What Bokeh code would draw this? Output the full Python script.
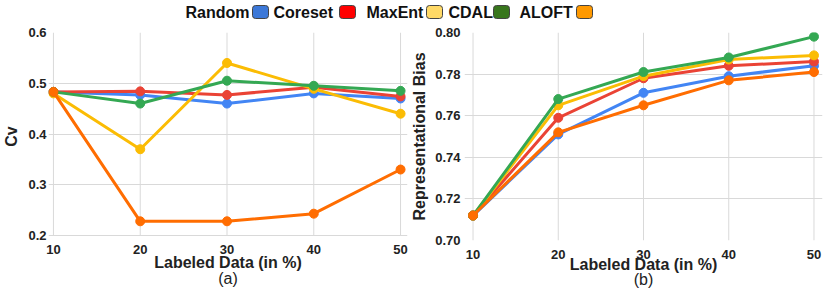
from bokeh.plotting import figure
from bokeh.layouts import column, row
from bokeh.models import FixedTicker, NumeralTickFormatter, Title, Range1d
from bokeh.core.properties import value
from bokeh.embed import file_html
from bokeh.resources import INLINE

# ---------------- data ----------------
methods = ["Random", "Coreset", "MaxEnt", "CDAL", "ALOFT"]
line_colors = ["#4285F4", "#EA4335", "#FBBC04", "#34A853", "#FF6D01"]
swatch_colors = ["#3C78D8", "#FF0000", "#FFD966", "#38761D", "#FF9900"]

labeled_pct = [10, 20, 30, 40, 50]

cv_random = [0.483, 0.477, 0.460, 0.480, 0.470]
cv_coreset = [0.483, 0.484, 0.477, 0.492, 0.474]
cv_maxent = [0.480, 0.370, 0.540, 0.489, 0.440]
cv_cdal = [0.483, 0.460, 0.505, 0.495, 0.485]
cv_aloft = [0.483, 0.228, 0.228, 0.243, 0.330]

bias_random = [0.712, 0.751, 0.771, 0.779, 0.784]
bias_coreset = [0.712, 0.759, 0.778, 0.784, 0.786]
bias_maxent = [0.712, 0.765, 0.779, 0.787, 0.789]
bias_cdal = [0.712, 0.768, 0.781, 0.788, 0.798]
bias_aloft = [0.712, 0.752, 0.765, 0.777, 0.781]

x_ticks = [10, 20, 30, 40, 50]
cv_ticks = [0.2, 0.3, 0.4, 0.5, 0.6]
bias_ticks = [0.70, 0.72, 0.74, 0.76, 0.78, 0.80]

cv_series = [cv_random, cv_coreset, cv_maxent, cv_cdal, cv_aloft]
bias_series = [bias_random, bias_coreset, bias_maxent, bias_cdal, bias_aloft]

FONT = "Liberation Sans"
TXT = "#222222"
GRID = "#d9d9d9"


def make_panel(series, yticks, yfmt, ylabel, sub, xr, yr, width, height,
               bl, br, bt, bb, ytick_standoff, ylabel_standoff,
               xtick_standoff, xlabel_standoff, sub_standoff):
    p = figure(width=width, height=height, output_backend="svg",
               toolbar_location=None, x_range=Range1d(*xr), y_range=Range1d(*yr),
               min_border_left=bl, min_border_right=br,
               min_border_top=bt, min_border_bottom=bb)
    p.outline_line_color = None
    p.xaxis.ticker = FixedTicker(ticks=x_ticks)
    p.yaxis.ticker = FixedTicker(ticks=yticks)
    p.yaxis.formatter = NumeralTickFormatter(format=yfmt)
    for ax in (p.xaxis, p.yaxis):
        ax.major_tick_line_color = None
        ax.minor_tick_line_color = None
        ax.major_tick_out = 0
        ax.major_tick_in = 0
        ax.major_label_text_font = FONT
        ax.major_label_text_font_style = "bold"
        ax.major_label_text_font_size = "13px"
        ax.major_label_text_color = TXT
        ax.axis_label_text_font = FONT
        ax.axis_label_text_font_style = "bold"
        ax.axis_label_text_font_size = "16px"
        ax.axis_label_text_color = TXT
    p.xaxis.axis_line_color = None
    p.yaxis.axis_line_color = None
    p.xaxis.major_label_standoff = xtick_standoff
    p.xaxis.axis_label_standoff = xlabel_standoff
    p.yaxis.major_label_standoff = ytick_standoff
    p.yaxis.axis_label_standoff = ylabel_standoff
    p.xaxis.axis_label = "Labeled Data (in %)"
    p.yaxis.axis_label = ylabel
    # vertical grid lines drawn only over the labelled value span
    p.xgrid.grid_line_color = None
    p.segment(x0=x_ticks, x1=x_ticks, y0=[yticks[0]] * len(x_ticks),
              y1=[yticks[-1]] * len(x_ticks), line_color=GRID, line_width=1)
    p.ygrid.grid_line_color = GRID
    for ys, c in zip(series, line_colors):
        p.line(labeled_pct, ys, line_color=c, line_width=3)
        p.scatter(labeled_pct, ys, size=9, fill_color=c, line_color=c)
    p.add_layout(Title(text=sub, align="center", text_font=FONT,
                       text_font_style="normal", text_font_size="16px",
                       text_color=TXT, standoff=sub_standoff), "below")
    return p


pa = make_panel(cv_series, cv_ticks, "0.0", "Cv", "(a)", (9.43, 50.8),
                (0.19015, 0.6), 408, 270, 45, 1, 10, 52, 2, 5, 4, -3, -12)
pb = make_panel(bias_series, bias_ticks, "0.00", "Representational Bias", "(b)",
                (9.0, 51.0), (0.70, 0.80), 421, 270, 55, 7, 10, 52, 4, 4, 9, -6, -14)

# ---------------- legend (label followed by swatch) ----------------
leg = figure(width=829, height=22, output_backend="svg", toolbar_location=None,
             x_range=Range1d(0, 829), y_range=Range1d(22, 0),
             min_border=0, min_border_left=0, min_border_right=0,
             min_border_top=0, min_border_bottom=0)
leg.axis.visible = False
leg.grid.visible = False
leg.outline_line_color = None
text_x = [185, 273, 366, 448, 519]
sw_left = [252, 339, 426, 493, 576]
sw_w = 16
leg.text(x=text_x, y=[11.5] * 5, text=methods, text_font=value(FONT),
         text_font_style="bold", text_font_size="16px", text_color="#111111",
         text_baseline="middle", text_align="left")
leg.quad(left=sw_left, right=[l + sw_w for l in sw_left], top=[5] * 5,
         bottom=[18] * 5, fill_color=swatch_colors, line_color="#444444",
         line_width=1, border_radius=3)

layout = column(leg, row(pa, pb))
open("out.html", "w").write(file_html(layout, INLINE))
